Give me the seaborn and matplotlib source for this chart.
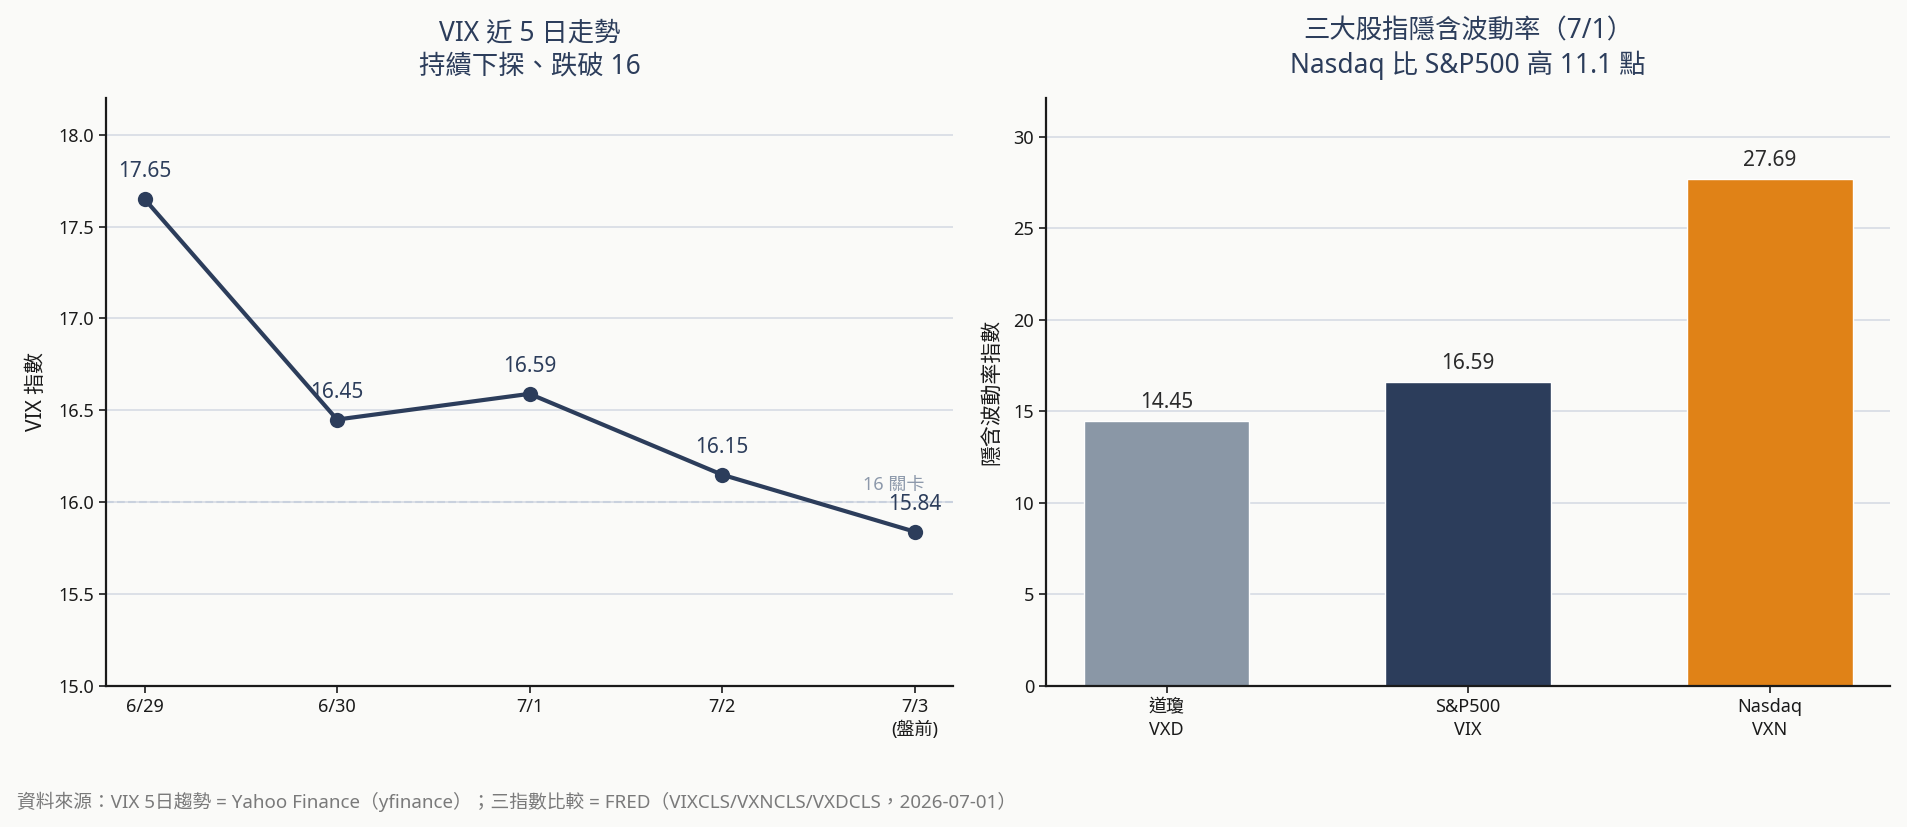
import matplotlib
matplotlib.use("Agg")
import matplotlib.pyplot as plt
import seaborn as sns
import pandas as pd

# ---- data ----
dates = ["6/29", "6/30", "7/1", "7/2", "7/3"]
date_labels = ["6/29", "6/30", "7/1", "7/2", "7/3\n(盤前)"]
vix_5d = [17.65, 16.45, 16.59, 16.15, 15.84]

indices = ["道瓊\nVXD", "S&P500\nVIX", "Nasdaq\nVXN"]
iv_values = [14.45, 16.59, 27.69]

key_level = 16.0

NAVY = "#2c3d5b"
ORANGE = "#e08217"
GRAY = "#8a97a6"
BG = "#fafaf8"

sns.set_theme(style="white")
plt.rcParams["font.family"] = ["Noto Sans", "Noto Sans CJK TC", "DejaVu Sans"]
plt.rcParams["axes.unicode_minus"] = False

fig = plt.figure(figsize=(19.08, 8.27), dpi=100, facecolor=BG)
ax1 = fig.add_axes([0.0556, 0.1705, 0.4439, 0.711])
ax2 = fig.add_axes([0.5482, 0.1705, 0.4425, 0.711])
for ax in (ax1, ax2):
    ax.set_facecolor(BG)
    ax.grid(axis="y", color="#d6dbe4", linewidth=1.2)
    ax.set_axisbelow(True)
    for s in ("top", "right"):
        ax.spines[s].set_visible(False)
    for s in ("left", "bottom"):
        ax.spines[s].set_color("#1a1a1a")
        ax.spines[s].set_linewidth(1.6)
    ax.tick_params(axis="both", which="both", length=5, width=1.2, color="#1a1a1a",
                   labelsize=13, labelcolor="#1a1a1a", left=True, bottom=True)

# ---- 左圖：VIX 近 5 日 ----
df1 = pd.DataFrame({"x": range(len(dates)), "vix": vix_5d})
ax1.axhline(key_level, color="#c9d1de", linestyle="--", linewidth=1.5, zorder=1)
sns.lineplot(data=df1, x="x", y="vix", ax=ax1, color=NAVY, linewidth=3,
             marker="o", markersize=11, markeredgewidth=0, zorder=3)
for xi, v in zip(df1["x"], vix_5d):
    ax1.annotate(f"{v:.2f}", (xi, v), xytext=(0, 12), textcoords="offset points",
                 ha="center", va="bottom", fontsize=15, color=NAVY)
ax1.text(len(dates) - 1 + 0.05, key_level + 0.045, "16 關卡", ha="right", va="bottom",
         fontsize=13, color="#8d99ab")
ax1.set_xticks(range(len(dates)), date_labels)
ax1.set_xlim(-0.2, len(dates) - 0.8)
ax1.set_ylim(15.0, 18.2)
ax1.set_yticks([15.0, 15.5, 16.0, 16.5, 17.0, 17.5, 18.0])
ax1.set_xlabel("")
ax1.set_ylabel("VIX 指數", fontsize=15, color="#1a1a1a", labelpad=8)
ax1.set_title("VIX 近 5 日走勢\n持續下探、跌破 16", fontsize=19, color=NAVY, pad=18,
              linespacing=1.2)

# ---- 右圖：三大指數隱含波動率 ----
df2 = pd.DataFrame({"idx": indices, "iv": iv_values})
sns.barplot(data=df2, x="idx", y="iv", hue="idx", palette=[GRAY, NAVY, ORANGE],
            width=0.55, legend=False, ax=ax2, saturation=1)
for c in ax2.containers:
    ax2.bar_label(c, fmt="%.2f", padding=6, fontsize=15, color="#2a2a2a")
ax2.set_xlim(-0.4, len(indices) - 0.6)
ax2.set_ylim(0, max(iv_values) * 1.16)
ax2.set_yticks([0, 5, 10, 15, 20, 25, 30])
ax2.set_xlabel("")
ax2.set_ylabel("隱含波動率指數", fontsize=15, color="#1a1a1a", labelpad=8)
ax2.set_title("三大股指隱含波動率（7/1）\nNasdaq 比 S&P500 高 11.1 點", fontsize=19,
              color=NAVY, pad=18, linespacing=1.2)

for ax in (ax1, ax2):
    for lbl in ax.get_xticklabels():
        lbl.set_linespacing(1.35)

fig.text(0.009, 0.03, "資料來源：VIX 5日趨勢 = Yahoo Finance（yfinance）；三指數比較 = FRED（VIXCLS/VXNCLS/VXDCLS，2026-07-01）",
         fontsize=13.5, color="#7a7a7a", ha="left", va="center")

fig.savefig("out.png", dpi=100, facecolor=BG)
